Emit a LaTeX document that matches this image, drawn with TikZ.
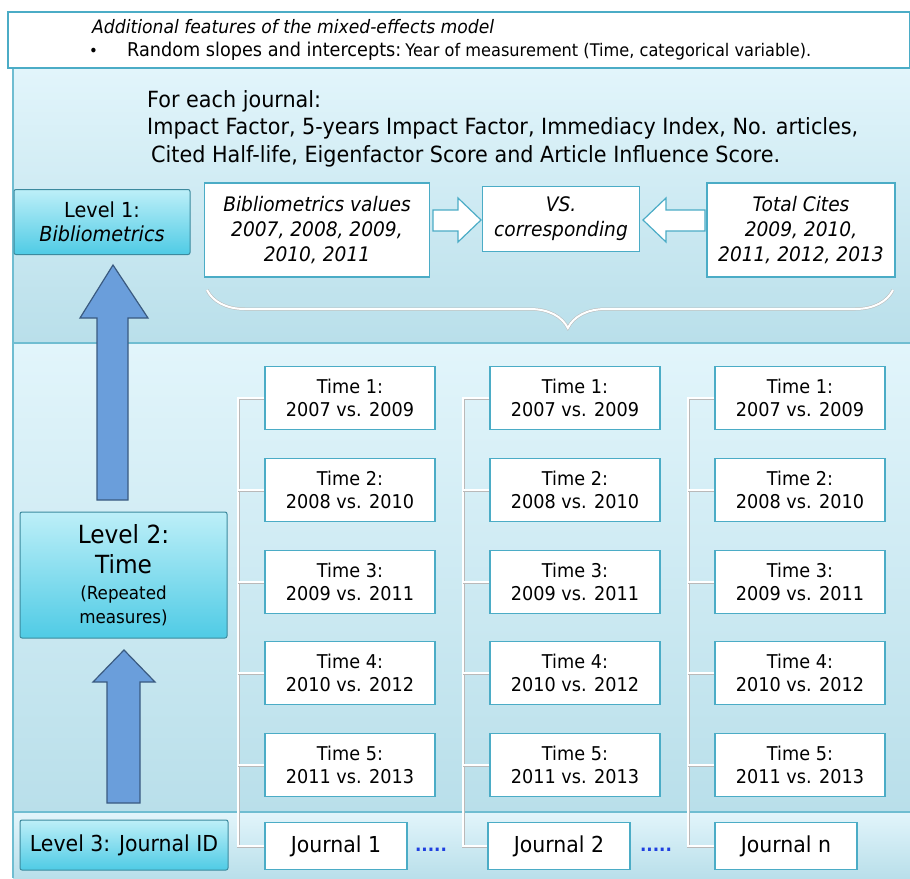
\documentclass[tikz,border=0pt]{standalone}
\usepackage{fontspec}
\setmainfont{DejaVu Sans}[FakeStretch=0.93]
\usetikzlibrary{decorations.pathreplacing}
\definecolor{tealline}{HTML}{4BACC6}
\definecolor{bandtop}{HTML}{E2F5FB}
\definecolor{bandbot}{HTML}{B9DFEA}
\definecolor{lvltop}{HTML}{BDEFF8}
\definecolor{lvlbot}{HTML}{4FCBE5}
\definecolor{uparrow}{HTML}{6A9EDB}
\definecolor{uparrowline}{HTML}{3A5A80}
\definecolor{dotblue}{HTML}{1F3FE0}
\tikzset{
  box/.style={draw=tealline, line width=1.6pt, fill=white, align=center, inner sep=0pt},
  timebox/.style={box, minimum width=170, minimum height=63, font=\fontsize{19}{23}\selectfont},
  jbox/.style={box, minimum width=142, minimum height=47, font=\fontsize{22}{25}\selectfont},
  bibbox/.style={box, font=\itshape\fontsize{20}{25}\selectfont},
  level/.style={draw=tealline!80!black, line width=1pt, rounded corners=2pt, top color=lvltop, bottom color=lvlbot, align=center, inner sep=0pt},
  tree/.style={draw=white, line width=2pt, preaction={draw=gray!55, line width=3pt}},
  hollow/.style={draw=tealline, line width=1.2pt, fill=white, line join=miter},
  bigup/.style={draw=uparrowline, line width=1.2pt, fill=uparrow},
  band/.style={top color=bandtop, bottom color=bandbot}
}
\begin{document}
\begin{tikzpicture}[x=1pt,y=-1pt]
\useasboundingbox (0,0) rectangle (910,878);
\fill[white] (0,0) rectangle (910,878);
\shade[band] (13,68) rectangle (910,343);
\shade[band] (13,343) rectangle (910,812);
\shade[band] (13,812) rectangle (910,878);
\draw[tealline!80, line width=1.5pt] (13,68) -- (13,878);
\draw[tealline!80, line width=1.5pt] (13,343) -- (910,343);
\draw[tealline!80, line width=1.5pt] (13,812) -- (910,812);
\draw[tealline, line width=2pt, fill=white] (8,12) rectangle (910,68);

\node[anchor=base west, inner sep=0pt, font=\itshape\fontsize{18.5}{22}\selectfont] (addl) at (92,33) {Additional features of the mixed-effects model};
\node[anchor=base west, inner sep=0pt, font=\fontsize{16}{18}\selectfont] (bul) at (89,56) {\textbullet};
\node[anchor=base west, inner sep=0pt] (rnd) at (127,56) {{\fontsize{19}{22}\selectfont Random slopes and intercepts:} {\fontsize{17.4}{20}\selectfont Year of measurement (Time, categorical variable).}};

\node[anchor=north west, align=left, inner sep=0pt, font=\fontsize{22.3}{27.5}\selectfont] (each) at (147,90)
  {For each journal:\\Impact Factor, 5-years Impact Factor, Immediacy Index, No. articles,\\\hspace*{4pt}Cited Half-life, Eigenfactor Score and Article Influence Score.};

\node[level, minimum width=176, minimum height=65, font=\fontsize{20.7}{24}\selectfont] (lvl1) at (102,222) {Level 1:\\\textit{Bibliometrics}};
\node[bibbox, minimum width=225, minimum height=94] (bib) at (317,230) {Bibliometrics values\\2007, 2008, 2009,\\2010, 2011};
\node[bibbox, minimum width=157, minimum height=65] (vs) at (561,219) {VS.\\corresponding};
\node[bibbox, minimum width=188, minimum height=94] (cites) at (801,230) {Total Cites\\2009, 2010,\\2011, 2012, 2013};

\draw[hollow] (433,210) -- (458,210) -- (458,198) -- (481,220) -- (458,242) -- (458,231) -- (433,231) -- cycle;
\draw[hollow] (705,210) -- (666,210) -- (666,198) -- (643,220) -- (666,242) -- (666,231) -- (705,231) -- cycle;

\draw[tree, decorate, decoration={brace, amplitude=38pt, aspect=0.474}] (893,290) -- (207,290);

\node[level, minimum width=207, minimum height=126, font=\fontsize{18}{24}\selectfont] (lvl2) at (123.5,575)
  {{\fontsize{25}{30}\selectfont Level 2:}\\[6pt]{\fontsize{25}{30}\selectfont Time}\\[2pt](Repeated\\measures)};
\node[level, minimum width=208, minimum height=50, font=\fontsize{22}{26}\selectfont] (lvl3) at (124,845) {Level 3: Journal ID};

\draw[bigup] (97,500) -- (97,318) -- (80,318) -- (113,265) -- (148,318) -- (128,318) -- (128,500) -- cycle;
\draw[bigup] (107,803) -- (107,682) -- (93,682) -- (124,650) -- (155,682) -- (140,682) -- (140,803) -- cycle;

\foreach \c/\x in {1/350,2/575,3/800}
  \foreach \r/\y/\a/\b in {1/398/2007/2009,2/490/2008/2010,3/582/2009/2011,4/673/2010/2012,5/765/2011/2013}
    \node[timebox] (t\c\r) at (\x,\y) {Time \r:\\\a{} vs. \b};

\node[jbox] (j1) at (336,846) {Journal 1};
\node[jbox] (j2) at (559,846) {Journal 2};
\node[jbox] (j3) at (786,846) {Journal n};
\node[text=dotblue, font=\bfseries\fontsize{18}{20}\selectfont] (dots1) at (431,850) {.....};
\node[text=dotblue, font=\bfseries\fontsize{18}{20}\selectfont] (dots2) at (656,850) {.....};

\foreach \c in {1,2,3} {
  \draw[tree] (t\c1.west) -- ++(-26,0) coordinate (v\c) |- (j\c.west);
  \foreach \r in {2,...,5}
    \draw[tree] (t\c\r.west) -- (t\c\r.west -| v\c);
}
\end{tikzpicture}
\end{document}
